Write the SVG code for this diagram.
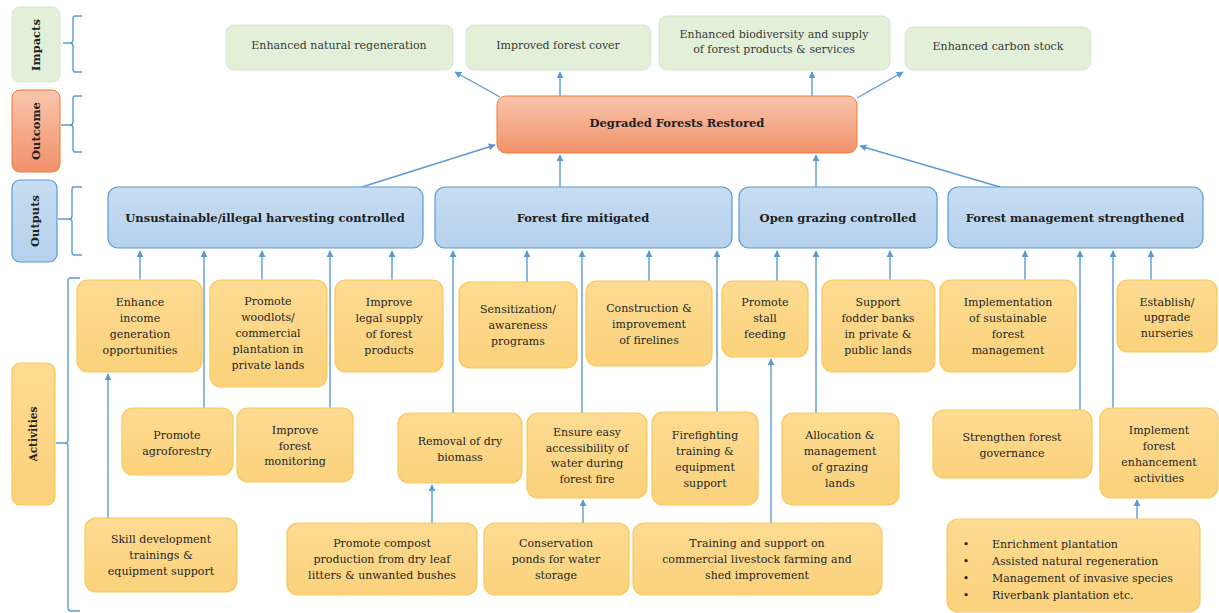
<svg xmlns="http://www.w3.org/2000/svg" width="1219" height="613" viewBox="0 0 1219 613">
<defs>
<linearGradient id="gOr" x1="0" y1="0" x2="0" y2="1"><stop offset="0" stop-color="#f9c6ad"/><stop offset="1" stop-color="#f1906a"/></linearGradient>
<linearGradient id="gBl" x1="0" y1="0" x2="0" y2="1"><stop offset="0" stop-color="#c7ddf2"/><stop offset="1" stop-color="#b5d1ec"/></linearGradient>
<linearGradient id="gYe" x1="0" y1="0" x2="0" y2="1"><stop offset="0" stop-color="#fddb92"/><stop offset="1" stop-color="#fbd27c"/></linearGradient>
<marker id="ah" viewBox="0 0 10 10" refX="9" refY="5" markerWidth="7" markerHeight="7" orient="auto" markerUnits="userSpaceOnUse"><path d="M0,0 L10,5 L0,10 z" fill="#5b9bd5"/></marker>
<style>
.imp{fill:#e2efd9;stroke:#d6e7cc;stroke-width:1}
.out{fill:url(#gOr);stroke:#ed7d31;stroke-width:1}
.op{fill:url(#gBl);stroke:#5b9bd5;stroke-width:1.2}
.act{fill:url(#gYe);stroke:#f7c95e;stroke-width:1.2}
text{font-family:"DejaVu Serif","Liberation Serif",serif;fill:#3a3a3a;text-anchor:middle}
.ti{font-size:11px;fill:#3a3a3a}
.tb{font-size:11.5px;font-weight:bold;fill:#222}
.ta{font-size:11px;fill:#262626}
.tl{font-size:11.5px;font-weight:bold;fill:#222}
.tl2{font-size:10.5px;font-weight:bold;fill:#222}
.lft{text-anchor:start}
.br{fill:none;stroke:#5b9bd5;stroke-width:1.4}
.cn path{fill:none;stroke:#5b9bd5;stroke-width:1.4;marker-end:url(#ah)}
</style>
</defs>
<rect width="1219" height="613" fill="#ffffff"/>

<!-- Left level labels -->
<g id="lbl-impacts"><rect x="12" y="7" width="48" height="75" rx="8" class="imp"/><text class="tl" transform="translate(40,45) rotate(-90)">Impacts</text></g>
<g id="lbl-outcome"><rect x="12" y="90" width="48" height="82" rx="8" class="out"/><text class="tl" transform="translate(40,131) rotate(-90)">Outcome</text></g>
<g id="lbl-outputs"><rect x="12" y="180" width="45" height="82" rx="8" class="op"/><text class="tl" transform="translate(39,221) rotate(-90)">Outputs</text></g>
<g id="lbl-activities"><rect x="12" y="363" width="43" height="142" rx="8" class="act"/><text class="tl2" transform="translate(37,434) rotate(-90)">Activities</text></g>

<!-- Braces -->
<g id="braces">
<path class="br" d="M82,16 L75,16 Q73,16 73,19 L73,40 Q73,43 70,43 L63,43 M70,43 Q73,43 73,46 L73,69 Q73,72 75,72 L82,72"/>
<path class="br" d="M82,96 L75,96 Q73,96 73,99 L73,122 Q73,125 70,125 L61,125 M70,125 Q73,125 73,128 L73,149 Q73,152 75,152 L82,152"/>
<path class="br" d="M82,187 L74,187 Q72,187 72,190 L72,216 Q72,219 69,219 L58,219 M69,219 Q72,219 72,222 L72,252 Q72,255 74,255 L82,255"/>
<path class="br" d="M80,278 L71,278 Q68,278 68,281 L68,440 Q68,443 65,443 L56,443 M65,443 Q68,443 68,446 L68,608 Q68,611 71,611 L80,611"/>
</g>

<!-- Connectors -->
<g id="connectors" class="cn">
<path d="M500,97 L455,72"/>
<path d="M560,96 L560,72"/>
<path d="M812,96 L812,72"/>
<path d="M857,98 L903,72"/>
<path d="M362,187 L495,145"/>
<path d="M560,187 L560,155"/>
<path d="M816,187 L816,155"/>
<path d="M1000,187 L860,146"/>
<path d="M140,280 L140,251"/>
<path d="M204,408 L204,251"/>
<path d="M262,280 L262,251"/>
<path d="M330,408 L330,251"/>
<path d="M392,280 L392,251"/>
<path d="M453,413 L453,251"/>
<path d="M527,282 L527,251"/>
<path d="M582,413 L582,251"/>
<path d="M649,281 L649,251"/>
<path d="M717,412 L717,251"/>
<path d="M777,281 L777,251"/>
<path d="M816,413 L816,251"/>
<path d="M890,280 L890,251"/>
<path d="M1025,280 L1025,251"/>
<path d="M1080,410 L1080,251"/>
<path d="M1113,408 L1113,251"/>
<path d="M1151,280 L1151,251"/>
<path d="M108,518 L108,374"/>
<path d="M432,523 L432,485"/>
<path d="M583,523 L583,500"/>
<path d="M771,523 L771,359"/>
<path d="M1137,519 L1137,500"/>
</g>

<!-- Impacts -->
<g id="imp1"><rect x="226" y="25" width="227" height="45" rx="8" class="imp"/><text class="ti" x="339" y="49">Enhanced natural regeneration</text></g>
<g id="imp2"><rect x="466" y="25" width="185" height="45" rx="8" class="imp"/><text class="ti" x="558" y="49">Improved forest cover</text></g>
<g id="imp3"><rect x="659" y="16" width="231" height="54" rx="8" class="imp"/><text class="ti" x="774" y="38">Enhanced biodiversity and supply</text><text class="ti" x="774" y="53">of forest products &amp; services</text></g>
<g id="imp4"><rect x="905" y="27" width="186" height="43" rx="8" class="imp"/><text class="ti" x="998" y="50">Enhanced carbon stock</text></g>

<!-- Outcome -->
<g id="outcome"><rect x="497" y="96" width="360" height="57" rx="9" class="out"/><text class="tb" x="677" y="127">Degraded Forests Restored</text></g>

<!-- Outputs -->
<g id="op1"><rect x="108" y="187" width="315" height="61" rx="10" class="op"/><text class="tb" x="265" y="222">Unsustainable/illegal harvesting controlled</text></g>
<g id="op2"><rect x="435" y="187" width="297" height="61" rx="10" class="op"/><text class="tb" x="583" y="222">Forest fire mitigated</text></g>
<g id="op3"><rect x="739" y="187" width="198" height="61" rx="10" class="op"/><text class="tb" x="838" y="222">Open grazing controlled</text></g>
<g id="op4"><rect x="948" y="187" width="255" height="61" rx="10" class="op"/><text class="tb" x="1075" y="222">Forest management strengthened</text></g>

<!-- Activities row 1 -->
<g id="a1"><rect x="77" y="280" width="125" height="92" rx="11" class="act"/><text class="ta" x="140" y="306">Enhance</text><text class="ta" x="140" y="322">income</text><text class="ta" x="140" y="338">generation</text><text class="ta" x="140" y="354">opportunities</text></g>
<g id="a2"><rect x="210" y="280" width="117" height="107" rx="11" class="act"/><text class="ta" x="268" y="305">Promote</text><text class="ta" x="268" y="321">woodlots/</text><text class="ta" x="268" y="337">commercial</text><text class="ta" x="268" y="353">plantation in</text><text class="ta" x="268" y="369">private lands</text></g>
<g id="a3"><rect x="335" y="280" width="108" height="92" rx="11" class="act"/><text class="ta" x="389" y="306">Improve</text><text class="ta" x="389" y="322">legal supply</text><text class="ta" x="389" y="338">of forest</text><text class="ta" x="389" y="354">products</text></g>
<g id="a4"><rect x="459" y="282" width="118" height="86" rx="11" class="act"/><text class="ta" x="518" y="313">Sensitization/</text><text class="ta" x="518" y="329">awareness</text><text class="ta" x="518" y="345">programs</text></g>
<g id="a5"><rect x="586" y="281" width="126" height="85" rx="11" class="act"/><text class="ta" x="649" y="312">Construction &amp;</text><text class="ta" x="649" y="328">improvement</text><text class="ta" x="649" y="344">of firelines</text></g>
<g id="a6"><rect x="722" y="281" width="86" height="76" rx="11" class="act"/><text class="ta" x="765" y="306">Promote</text><text class="ta" x="765" y="322">stall</text><text class="ta" x="765" y="338">feeding</text></g>
<g id="a7"><rect x="822" y="280" width="113" height="92" rx="11" class="act"/><text class="ta" x="878" y="306">Support</text><text class="ta" x="878" y="322">fodder banks</text><text class="ta" x="878" y="338">in private &amp;</text><text class="ta" x="878" y="354">public lands</text></g>
<g id="a8"><rect x="940" y="280" width="136" height="92" rx="11" class="act"/><text class="ta" x="1008" y="306">Implementation</text><text class="ta" x="1008" y="322">of sustainable</text><text class="ta" x="1008" y="338">forest</text><text class="ta" x="1008" y="354">management</text></g>
<g id="a9"><rect x="1117" y="280" width="100" height="72" rx="11" class="act"/><text class="ta" x="1167" y="306">Establish/</text><text class="ta" x="1167" y="321">upgrade</text><text class="ta" x="1167" y="337">nurseries</text></g>

<!-- Activities row 2 -->
<g id="a10"><rect x="122" y="408" width="111" height="67" rx="11" class="act"/><text class="ta" x="177" y="439">Promote</text><text class="ta" x="177" y="455">agroforestry</text></g>
<g id="a11"><rect x="237" y="408" width="116" height="74" rx="11" class="act"/><text class="ta" x="295" y="434">Improve</text><text class="ta" x="295" y="450">forest</text><text class="ta" x="295" y="465">monitoring</text></g>
<g id="a12"><rect x="398" y="413" width="124" height="70" rx="11" class="act"/><text class="ta" x="460" y="445">Removal of dry</text><text class="ta" x="460" y="461">biomass</text></g>
<g id="a13"><rect x="527" y="413" width="120" height="85" rx="11" class="act"/><text class="ta" x="587" y="436">Ensure easy</text><text class="ta" x="587" y="452">accessibility of</text><text class="ta" x="587" y="467">water during</text><text class="ta" x="587" y="483">forest fire</text></g>
<g id="a14"><rect x="652" y="412" width="106" height="93" rx="11" class="act"/><text class="ta" x="705" y="439">Firefighting</text><text class="ta" x="705" y="455">training &amp;</text><text class="ta" x="705" y="471">equipment</text><text class="ta" x="705" y="487">support</text></g>
<g id="a15"><rect x="782" y="413" width="117" height="92" rx="11" class="act"/><text class="ta" x="840" y="439">Allocation &amp;</text><text class="ta" x="840" y="455">management</text><text class="ta" x="840" y="471">of grazing</text><text class="ta" x="840" y="487">lands</text></g>
<g id="a16"><rect x="933" y="410" width="159" height="68" rx="11" class="act"/><text class="ta" x="1012" y="441">Strengthen forest</text><text class="ta" x="1012" y="457">governance</text></g>
<g id="a17"><rect x="1100" y="408" width="118" height="90" rx="11" class="act"/><text class="ta" x="1159" y="434">Implement</text><text class="ta" x="1159" y="450">forest</text><text class="ta" x="1159" y="466">enhancement</text><text class="ta" x="1159" y="482">activities</text></g>

<!-- Activities row 3 -->
<g id="a18"><rect x="85" y="518" width="152" height="74" rx="11" class="act"/><text class="ta" x="161" y="543">Skill development</text><text class="ta" x="161" y="559">trainings &amp;</text><text class="ta" x="161" y="575">equipment support</text></g>
<g id="a19"><rect x="287" y="523" width="190" height="72" rx="11" class="act"/><text class="ta" x="382" y="547">Promote compost</text><text class="ta" x="382" y="563">production from dry leaf</text><text class="ta" x="382" y="579">litters &amp; unwanted bushes</text></g>
<g id="a20"><rect x="484" y="523" width="145" height="72" rx="11" class="act"/><text class="ta" x="556" y="547">Conservation</text><text class="ta" x="556" y="563">ponds for water</text><text class="ta" x="556" y="579">storage</text></g>
<g id="a21"><rect x="633" y="523" width="249" height="72" rx="11" class="act"/><text class="ta" x="757" y="547">Training and support on</text><text class="ta" x="757" y="563">commercial livestock farming and</text><text class="ta" x="757" y="579">shed improvement</text></g>
<g id="a22"><rect x="947" y="519" width="253" height="93" rx="11" class="act"/>
<text class="ta" x="966" y="548">•</text><text class="ta lft" x="992" y="548">Enrichment plantation</text>
<text class="ta" x="966" y="565">•</text><text class="ta lft" x="992" y="565">Assisted natural regeneration</text>
<text class="ta" x="966" y="582">•</text><text class="ta lft" x="992" y="582">Management of invasive species</text>
<text class="ta" x="966" y="599">•</text><text class="ta lft" x="992" y="599">Riverbank plantation etc.</text></g>
</svg>
